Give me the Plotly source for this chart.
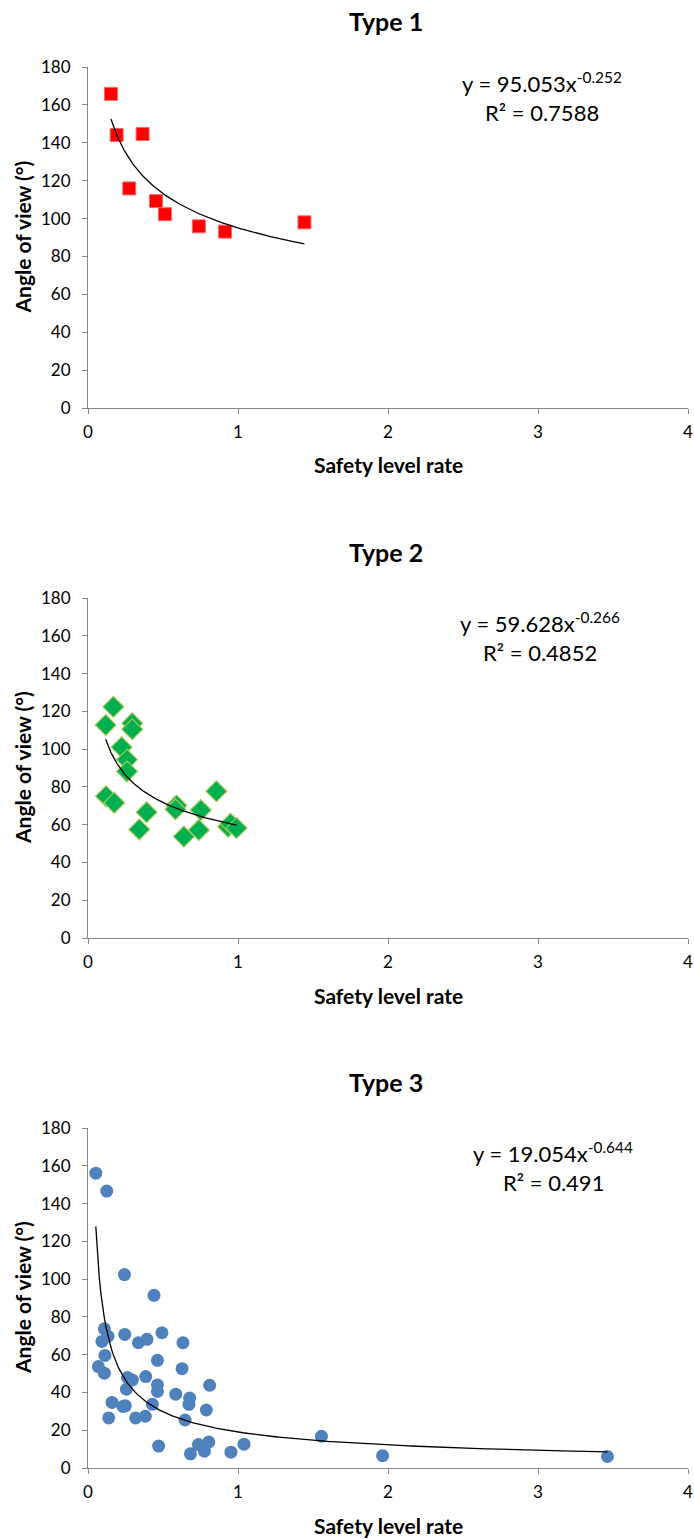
import numpy as np
import plotly.graph_objects as go

# ---------------- data ----------------
type1_x = [0.153, 0.191, 0.364, 0.275, 0.453, 0.513, 0.739, 0.914, 1.443]
type1_y = [165.8, 144.1, 144.6, 115.9, 109.2, 102.3, 95.9, 93.1, 98.0]
type1_coef = (95.053, -0.252)
type1_eq = ("y = 95.053x<sup>-0.252</sup>", "R² = 0.7588")

type2_x = [0.169, 0.118, 0.295, 0.295, 0.224, 0.260, 0.260, 0.120, 0.175, 0.391,
           0.342, 0.590, 0.583, 0.752, 0.856, 0.639, 0.739, 0.934, 0.950, 0.990]
type2_y = [122.4, 112.8, 113.7, 110.5, 101.0, 94.4, 88.2, 75.1, 71.6, 66.6,
           57.5, 70.2, 68.1, 67.7, 77.7, 53.7, 57.2, 58.9, 60.5, 58.2]
type2_coef = (59.628, -0.266)
type2_eq = ("y = 59.628x<sup>-0.266</sup>", "R² = 0.4852")

type3_x = [0.052, 0.125, 0.243, 0.440, 0.109, 0.093, 0.133, 0.245, 0.336, 0.393,
           0.493, 0.633, 0.113, 0.463, 0.069, 0.109, 0.627, 0.263, 0.296, 0.385,
           0.256, 0.463, 0.463, 0.811, 0.585, 0.678, 0.673, 0.160, 0.429, 0.233,
           0.249, 0.789, 0.138, 0.318, 0.382, 0.647, 0.471, 0.736, 0.805, 0.776,
           0.683, 0.953, 1.040, 1.556, 1.964, 3.463]
type3_y = [156.1, 146.6, 102.4, 91.4, 73.7, 67.0, 69.8, 70.7, 66.3, 68.1,
           71.6, 66.3, 59.6, 57.0, 53.7, 50.2, 52.6, 47.9, 46.6, 48.4,
           41.7, 44.0, 40.5, 43.8, 39.1, 37.0, 33.7, 34.7, 33.7, 32.6,
           32.9, 30.7, 26.5, 26.5, 27.4, 25.4, 11.6, 12.4, 13.7, 8.9,
           7.5, 8.4, 12.6, 16.8, 6.5, 6.1]
type3_coef = (19.054, -0.644)
type3_eq = ("y = 19.054x<sup>-0.644</sup>", "R² = 0.491")

titles = ["Type 1", "Type 2", "Type 3"]
x_ticks = [0, 1, 2, 3, 4]
y_ticks = [0, 20, 40, 60, 80, 100, 120, 140, 160, 180]
x_title = "Safety level rate"
y_title = "Angle of view (°)"

# ---------------- layout helpers ----------------
W, H = 694, 1539
FONT = "Lato"
plot_left, plot_right = 88, 688
panels = [  # (top px, bottom px) in window pixels
    (67, 408),
    (598, 938),
    (1128, 1468),
]

def py(px):
    return 1 - px / H

def pxx(px):
    return px / W

fig = go.Figure()

series = [
    (type1_x, type1_y, type1_coef, type1_eq,
     dict(symbol="square", size=13, color="#FF0000", line=dict(color="#F26B6B", width=1))),
    (type2_x, type2_y, type2_coef, type2_eq,
     dict(symbol="diamond", size=16, color="#00B050", line=dict(color="#A4C553", width=1.2))),
    (type3_x, type3_y, type3_coef, type3_eq,
     dict(symbol="circle", size=13, color="#4F81BD", line=dict(color="#4F81BD", width=0))),
]

annotations = []
eq_pos = [(542, 82, 112), (540, 622, 652), (553, 1152, 1182)]

for i, (xs, ys, coef, eq, mk) in enumerate(series):
    n = i + 1
    xa = "x" if n == 1 else f"x{n}"
    ya = "y" if n == 1 else f"y{n}"
    fig.add_trace(go.Scatter(x=xs, y=ys, mode="markers", marker=mk,
                             xaxis=xa, yaxis=ya, showlegend=False, cliponaxis=False))
    a, b = coef
    tx = np.linspace(min(xs), max(xs), 300)
    fig.add_trace(go.Scatter(x=tx, y=a * tx ** b, mode="lines",
                             line=dict(color="black", width=1.3),
                             xaxis=xa, yaxis=ya, showlegend=False))
    top, bot = panels[i]
    axis_common = dict(showline=True, linecolor="#868686", linewidth=1,
                       showgrid=False, zeroline=False, ticks="outside",
                       ticklen=5, tickcolor="#868686", automargin=False,
                       ticklabeloverflow="allow",
                       tickfont=dict(family=FONT, size=17, color="black"))
    fig.update_layout(**{
        ("xaxis" if n == 1 else f"xaxis{n}"): dict(
            domain=[pxx(plot_left), pxx(plot_right)], anchor=ya,
            range=[0, 4], tickvals=x_ticks, ticklabelstandoff=4, **axis_common),
        ("yaxis" if n == 1 else f"yaxis{n}"): dict(
            domain=[py(bot), py(top)], anchor=xa,
            range=[0, 180], tickvals=y_ticks, ticklabelstandoff=8, **axis_common),
    })
    # subplot title
    annotations.append(dict(text=f"<b>{titles[i]}</b>", x=pxx(386), y=py(top - 46),
                            xref="paper", yref="paper", showarrow=False,
                            font=dict(family=FONT, size=25, color="black"),
                            xanchor="center", yanchor="middle"))
    # x-axis title
    annotations.append(dict(text=f"<b>{x_title}</b>", x=pxx(388), y=py(bot + 57),
                            xref="paper", yref="paper", showarrow=False,
                            font=dict(family=FONT, size=21, color="black"),
                            xanchor="center", yanchor="middle"))
    # y-axis title
    annotations.append(dict(text=f"<b>{y_title}</b>", x=pxx(22), y=py((top + bot) / 2),
                            xref="paper", yref="paper", showarrow=False, textangle=-90,
                            font=dict(family=FONT, size=21, color="black"),
                            xanchor="center", yanchor="middle"))
    # equation
    ex, ey1, ey2 = eq_pos[i]
    annotations.append(dict(text=eq[0], x=pxx(ex), y=py(ey1), xref="paper", yref="paper",
                            showarrow=False, font=dict(family=FONT, size=22, color="black"),
                            xanchor="center", yanchor="middle"))
    annotations.append(dict(text=eq[1], x=pxx(ex), y=py(ey2), xref="paper", yref="paper",
                            showarrow=False, font=dict(family=FONT, size=22, color="black"),
                            xanchor="center", yanchor="middle"))

fig.update_layout(width=W, height=H, margin=dict(l=0, r=0, t=0, b=0),
                  paper_bgcolor="white", plot_bgcolor="white",
                  annotations=annotations, showlegend=False)

fig.write_html("out.html",
               config={"displayModeBar": False},
               post_script="document.body.style.margin='0';document.body.style.overflow='hidden';")
